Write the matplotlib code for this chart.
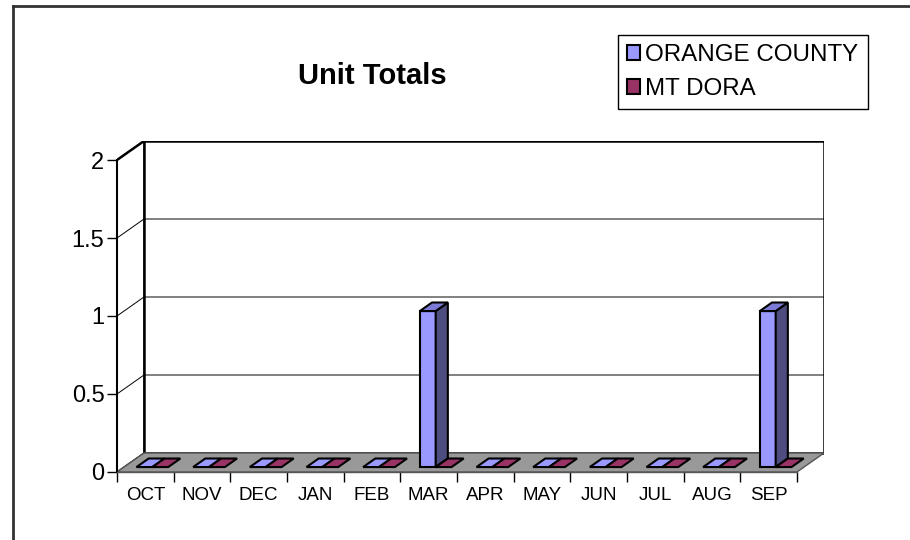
import matplotlib
matplotlib.use('Agg')
import matplotlib.pyplot as plt
import matplotlib.patches as patches
from matplotlib.lines import Line2D

# ---------------------------------------------------------
# data
# ---------------------------------------------------------
MONTHS = ['OCT', 'NOV', 'DEC', 'JAN', 'FEB', 'MAR', 'APR', 'MAY', 'JUN', 'JUL', 'AUG', 'SEP']
ORANGE_COUNTY = [0, 0, 0, 0, 0, 1, 0, 0, 0, 0, 0, 1]
MT_DORA = [0, 0, 0, 0, 0, 0, 0, 0, 0, 0, 0, 0]
SERIES_NAMES = ['ORANGE COUNTY', 'MT DORA']
Y_TICKS = [0, 0.5, 1, 1.5, 2]
Y_LABELS = ['0', '0.5', '1', '1.5', '2']

# colours (front, top, side)
COLORS = [('#9999FF', '#7B7BD6', '#4D4D80'),
          ('#993366', '#7E2A55', '#4D1A33')]

plt.rcParams['font.family'] = ['Liberation Sans', 'DejaVu Sans']

# ---------------------------------------------------------
# layout (pixels of the 910x540 canvas)
# ---------------------------------------------------------
W, H = 910, 540
CAT_PX = 680 / 12      # one category on the front plane
UNIT_PX = 312 / 2      # one unit on the value axis
DX = 27 / CAT_PX       # depth offset, in data units
DY = 19 / UNIT_PX
YMAX = 2
N = len(MONTHS)

BAR_W = 0.28           # per series, in category units
BAR_OFF = 0.22
D0, D1 = 0.26, 0.71    # bar depth range (fraction of the floor depth)

fig = plt.figure(figsize=(W / 100, H / 100), dpi=100)
ax = fig.add_axes([117 / W, (H - 472) / H, 707 / W, 331 / H])
ax.set_xlim(0, 707 / CAT_PX)
ax.set_ylim(0, 331 / UNIT_PX)
ax.patch.set_visible(False)

# left wall
ax.add_patch(patches.Polygon([(0, 0), (DX, DY), (DX, YMAX + DY), (0, YMAX)],
                             closed=True, facecolor='white', edgecolor='black', lw=1, zorder=1))
# gridlines on both walls
for v in Y_TICKS[1:-1]:
    ax.plot([0, DX, N + DX], [v, v + DY, v + DY], color='black', lw=0.7, zorder=1.5)
# back wall outline
ax.add_patch(patches.Polygon([(DX, DY), (N + DX, DY), (N + DX, YMAX + DY), (DX, YMAX + DY)],
                             closed=True, facecolor='none', edgecolor='black', lw=1.8, zorder=1.6))
ax.plot([0, DX], [YMAX, YMAX + DY], color='black', lw=1.8, zorder=1.6)

# floor
ax.add_patch(patches.Polygon([(0, 0), (N, 0), (N + DX, DY), (DX, DY)],
                             closed=True, facecolor='#999999', edgecolor='#555555', lw=1, zorder=2))

# bars
for i in range(N):
    for s, values in enumerate([ORANGE_COUNTY, MT_DORA]):
        h = values[i]
        front, top, side = COLORS[s]
        x0 = i + BAR_OFF + s * BAR_W + D0 * DX
        x1 = x0 + BAR_W
        y0 = D0 * DY
        ddx = (D1 - D0) * DX
        ddy = (D1 - D0) * DY
        if h > 0:
            ax.add_patch(patches.Polygon([(x0, y0), (x1, y0), (x1, y0 + h), (x0, y0 + h)],
                                         closed=True, facecolor=front, edgecolor='black', lw=1.5, zorder=3))
            ax.add_patch(patches.Polygon([(x1, y0), (x1 + ddx, y0 + ddy), (x1 + ddx, y0 + ddy + h), (x1, y0 + h)],
                                         closed=True, facecolor=side, edgecolor='black', lw=1.5, zorder=3))
        ax.add_patch(patches.Polygon([(x0, y0 + h), (x1, y0 + h), (x1 + ddx, y0 + ddy + h), (x0 + ddx, y0 + ddy + h)],
                                     closed=True, facecolor=top if h > 0 else front, edgecolor='black',
                                     lw=1.5, zorder=3))

# axes: front value axis and category axis
for name in ['top', 'right']:
    ax.spines[name].set_visible(False)
ax.spines['left'].set_bounds(0, YMAX)
ax.spines['left'].set_linewidth(1.5)
ax.spines['bottom'].set_bounds(0, N)
ax.spines['bottom'].set_color('#555555')
ax.spines['bottom'].set_linewidth(1)

ax.set_yticks(Y_TICKS)
ax.set_yticklabels(Y_LABELS)
ax.tick_params(axis='y', direction='out', length=7, width=1, pad=2, labelsize=17)

ax.set_xticks(range(N + 1))
ax.set_xticklabels([])
ax.set_xticks([i + 0.5 for i in range(N)], minor=True)
ax.set_xticklabels(MONTHS, minor=True)
ax.tick_params(axis='x', which='major', direction='out', length=7, width=1, color='black')
ax.tick_params(axis='x', which='minor', length=0, pad=11, labelsize=13.5)

# title
fig.text(372 / W, 1 - 76 / H, 'Unit Totals', ha='center', va='center', fontsize=21, fontweight='bold')

# legend
handles = [patches.Patch(facecolor=COLORS[k][0], edgecolor='black', lw=1.5) for k in range(2)]
leg = fig.legend(handles, SERIES_NAMES, loc='upper left', bbox_to_anchor=(618 / W, 1 - 35 / H),
                 fontsize=17.4, frameon=True, fancybox=False, framealpha=1, borderaxespad=0,
                 handlelength=0.55, handleheight=0.55, handletextpad=0.2, labelspacing=0.5,
                 borderpad=0.38)
leg.get_frame().set_edgecolor('black')
leg.get_frame().set_linewidth(1)

# outer chart border
fig.add_artist(Line2D([13 / W, 1], [1 - 6 / H, 1 - 6 / H], color='#333333', lw=2, transform=fig.transFigure))
fig.add_artist(Line2D([13 / W, 13 / W], [1 - 6 / H, 0], color='#333333', lw=2, transform=fig.transFigure))

fig.savefig('out.png', dpi=100)
